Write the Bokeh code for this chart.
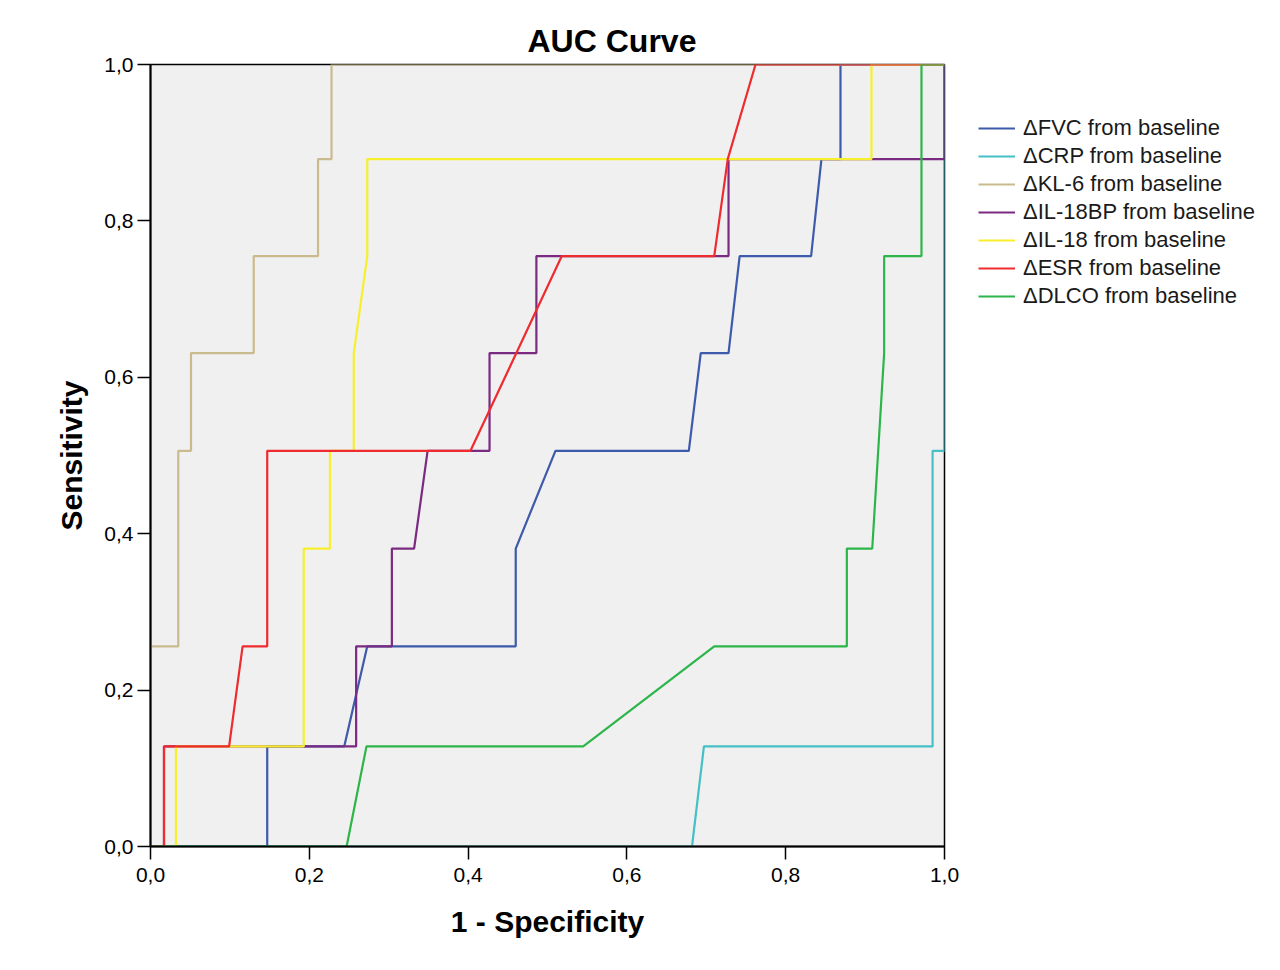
from bokeh.plotting import figure
from bokeh.layouts import row
from bokeh.models import Range1d, FixedTicker, Legend, LegendItem
from bokeh.embed import file_html
from bokeh.resources import INLINE

# ---- data ----
tick_vals = [0.0, 0.2, 0.4, 0.6, 0.8, 1.0]
tick_labels = ["0,0", "0,2", "0,4", "0,6", "0,8", "1,0"]

series_names = [
    "\u0394FVC from baseline",
    "\u0394CRP from baseline",
    "\u0394KL-6 from baseline",
    "\u0394IL-18BP from baseline",
    "\u0394IL-18 from baseline",
    "\u0394ESR from baseline",
    "\u0394DLCO from baseline",
]
series_colors = ["#3d5aab", "#45c0c6", "#c9bb8e", "#7a2a80", "#f7ef2e", "#ee2b2e", "#2db54a"]

fvc_x = [0, 0.147, 0.147, 0.244, 0.273, 0.460, 0.460, 0.510, 0.678, 0.693, 0.728, 0.742, 0.832, 0.845, 0.869, 0.869, 1.0]
fvc_y = [0, 0, 0.128, 0.128, 0.256, 0.256, 0.381, 0.506, 0.506, 0.631, 0.631, 0.755, 0.755, 0.879, 0.879, 1.0, 1.0]

crp_x = [0, 0.682, 0.697, 0.985, 0.985, 1.0, 1.0]
crp_y = [0, 0, 0.128, 0.128, 0.506, 0.506, 1.0]

kl6_x = [0, 0, 0.035, 0.035, 0.051, 0.051, 0.130, 0.130, 0.211, 0.211, 0.228, 0.228, 1.0]
kl6_y = [0, 0.256, 0.256, 0.506, 0.506, 0.631, 0.631, 0.755, 0.755, 0.879, 0.879, 1.0, 1.0]

il18bp_x = [0, 0.017, 0.017, 0.259, 0.259, 0.304, 0.304, 0.332, 0.349, 0.427, 0.427, 0.486, 0.486, 0.728, 0.728, 1.0, 1.0]
il18bp_y = [0, 0, 0.128, 0.128, 0.256, 0.256, 0.381, 0.381, 0.506, 0.506, 0.631, 0.631, 0.755, 0.755, 0.879, 0.879, 1.0]

il18_x = [0, 0.032, 0.032, 0.193, 0.193, 0.226, 0.226, 0.256, 0.256, 0.273, 0.273, 0.908, 0.908, 1.0]
il18_y = [0, 0, 0.128, 0.128, 0.381, 0.381, 0.506, 0.506, 0.631, 0.755, 0.879, 0.879, 1.0, 1.0]

esr_x = [0, 0.017, 0.017, 0.099, 0.116, 0.147, 0.147, 0.403, 0.518, 0.710, 0.727, 0.762, 1.0]
esr_y = [0, 0, 0.128, 0.128, 0.256, 0.256, 0.506, 0.506, 0.755, 0.755, 0.879, 1.0, 1.0]

dlco_x = [0, 0.247, 0.272, 0.545, 0.710, 0.877, 0.877, 0.909, 0.924, 0.924, 0.971, 0.971, 1.0]
dlco_y = [0, 0, 0.128, 0.128, 0.256, 0.256, 0.381, 0.381, 0.631, 0.755, 0.755, 1.0, 1.0]

series_x = [fvc_x, crp_x, kl6_x, il18bp_x, il18_x, esr_x, dlco_x]
series_y = [fvc_y, crp_y, kl6_y, il18bp_y, il18_y, esr_y, dlco_y]

FONT = "'Liberation Sans', Arial, sans-serif"

p = figure(
    width=972, height=950,
    x_range=Range1d(0, 1), y_range=Range1d(0, 1),
    output_backend="svg", toolbar_location=None,
    min_border_left=150, min_border_top=64, min_border_right=28, min_border_bottom=104,
    background_fill_color="#f0f0f0", border_fill_color="white",
)
p.grid.visible = False
p.outline_line_color = "black"
p.outline_line_width = 1.5

p.title.text = "AUC Curve"
p.title.text_font = FONT
p.title.text_font_size = "32px"
p.title.text_font_style = "bold"
p.title.text_color = "black"
p.title.align = "left"
p.title.offset = 377
p.title.standoff = 11

for ax in (p.xaxis[0], p.yaxis[0]):
    ax.ticker = FixedTicker(ticks=tick_vals)
    ax.major_label_overrides = {v: s for v, s in zip(tick_vals, tick_labels)}
    ax.axis_line_width = 2
    ax.axis_line_color = "black"
    ax.major_tick_line_width = 1.5
    ax.major_tick_out = 13
    ax.major_tick_in = 0
    ax.minor_tick_out = 0
    ax.minor_tick_in = 0
    ax.major_label_text_font = FONT
    ax.major_label_text_font_size = "21px"
    ax.major_label_text_color = "black"
    ax.axis_label_text_font = FONT
    ax.axis_label_text_font_size = "30px"
    ax.axis_label_text_font_style = "bold"
    ax.axis_label_text_color = "black"

p.xaxis.axis_label = "1 - Specificity"
p.yaxis.axis_label = "Sensitivity"
p.xaxis.major_label_standoff = 8
p.yaxis.major_label_standoff = 4
p.xaxis.axis_label_standoff = 20
p.yaxis.axis_label_standoff = 13

for color, xs, ys in zip(series_colors, series_x, series_y):
    p.line(xs, ys, line_color=color, line_width=2.2)

# ---- legend panel: a second figure beside the chart that only shows the legend.
# Its lines carry the same data but its ranges lie outside the data, so only
# the legend entries are visible there.
q = figure(
    width=296, height=950,
    x_range=Range1d(2, 3), y_range=Range1d(2, 3),
    x_axis_type=None, y_axis_type=None,
    output_backend="svg", toolbar_location=None,
    min_border=0, border_fill_color="white", background_fill_color="white",
)
q.outline_line_color = None
q.grid.visible = False

items = []
for name, color, xs, ys in zip(series_names, series_colors, series_x, series_y):
    r = q.line(xs, ys, line_color=color, line_width=2.2)
    items.append(LegendItem(label=name, renderers=[r]))

legend = Legend(
    items=items,
    location=(6, 536),
    border_line_color=None,
    background_fill_alpha=0,
    label_text_font=FONT,
    label_text_font_size="22px",
    label_text_color="#1a1a1a",
    glyph_width=37, glyph_height=28, label_height=28,
    spacing=0, padding=0, margin=0, label_standoff=8,
)
q.add_layout(legend, "center")

layout = row(p, q, spacing=0)
open("out.html", "w").write(file_html(layout, INLINE))
